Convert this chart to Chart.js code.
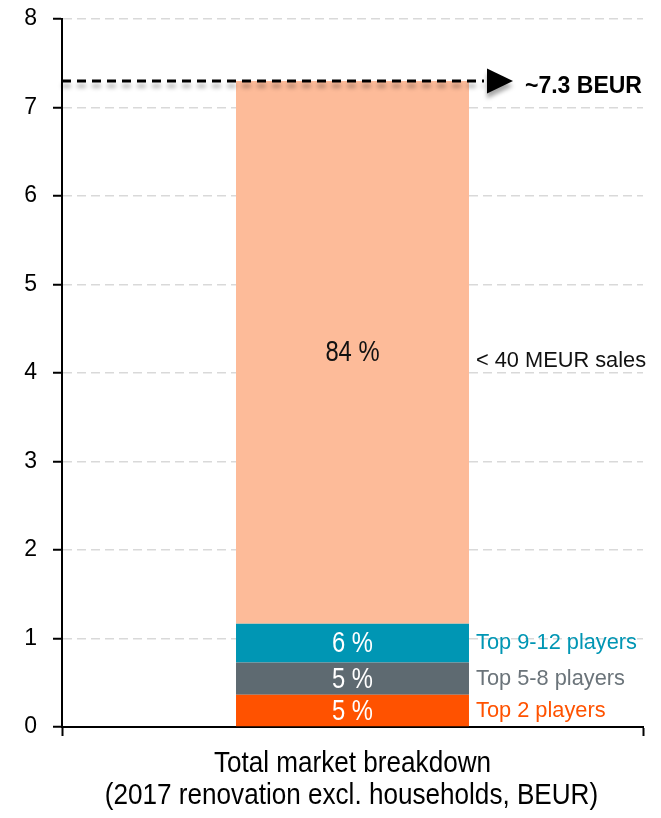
<!DOCTYPE html>
<html>
<head>
<meta charset="utf-8">
<script src="https://cdn.jsdelivr.net/npm/chart.js@4.4.0/dist/chart.umd.min.js"></script>
<style>
  html, body { margin: 0; padding: 0; background: #ffffff; }
  #wrap { width: 661px; height: 818px; }
</style>
</head>
<body>
<div id="wrap"><canvas id="chart" width="661" height="818"></canvas></div>
<script>
// Market split, stacked bottom to top (BEUR)
const categories = ['Total market'];
const segmentNames = ['Top 2 players', 'Top 5-8 players', 'Top 9-12 players', '< 40 MEUR sales'];
const segmentValues = [0.365, 0.365, 0.438, 6.132];
const segmentShares = ['5 %', '5 %', '6 %', '84 %'];
const marketTotal = 7.3;
const totalLabel = '~7.3 BEUR';
const yTickValues = [0, 1, 2, 3, 4, 5, 6, 7, 8];
const axisTitleLines = ['Total market breakdown', '(2017 renovation excl. households, BEUR)'];

const segmentColors = ['#FF5200', '#5E6A71', '#0096B4', '#FDBB99'];
const nameColors = ['#FF5200', '#6B747A', '#0096B4', '#111111'];
const shareColors = ['#ffffff', '#ffffff', '#ffffff', '#111111'];

const SANS = '"Liberation Sans", Arial, sans-serif';
const CONDENSE = 0.82; // horizontal squeeze giving a narrow face

// text drawn with an optional horizontal squeeze
function drawText(ctx, text, x, y, font, color, align, squeeze) {
  ctx.save();
  ctx.font = font;
  ctx.fillStyle = color;
  ctx.textAlign = align;
  ctx.textBaseline = 'middle';
  ctx.translate(x, y);
  ctx.scale(squeeze, 1);
  ctx.fillText(text, 0, 0);
  ctx.restore();
}

const annotations = {
  id: 'annotations',
  afterDatasetsDraw(chart) {
    const ctx = chart.ctx;
    const y = chart.scales.y;
    const area = chart.chartArea;

    // labels inside and beside each segment
    let base = 0;
    segmentValues.forEach((v, i) => {
      const bar = chart.getDatasetMeta(i).data[0];
      const mid = y.getPixelForValue(base + v / 2);
      base += v;
      drawText(ctx, segmentShares[i], bar.x, mid + 1, '29px ' + SANS, shareColors[i], 'center', CONDENSE);
      const right = bar.x + bar.width / 2;
      const shift = i === segmentValues.length - 1 ? 9 : 0;
      drawText(ctx, segmentNames[i], right + 7, mid + shift, '22px ' + SANS, nameColors[i], 'left', 0.99);
    });

    // total marker: dashed line with arrow head
    const ty = y.getPixelForValue(marketTotal);
    ctx.save();
    ctx.shadowColor = 'rgba(0,0,0,0.35)';
    ctx.shadowBlur = 4;
    ctx.shadowOffsetY = 5;
    ctx.strokeStyle = '#000000';
    ctx.lineWidth = 3;
    ctx.setLineDash([9, 6]);
    ctx.beginPath();
    ctx.moveTo(area.left, ty);
    ctx.lineTo(484, ty);
    ctx.stroke();
    ctx.setLineDash([]);
    ctx.fillStyle = '#000000';
    ctx.beginPath();
    ctx.moveTo(487, ty - 12.5);
    ctx.lineTo(513, ty);
    ctx.lineTo(487, ty + 12.5);
    ctx.closePath();
    ctx.fill();
    ctx.restore();

    drawText(ctx, totalLabel, 525, ty + 6, 'bold 23px ' + SANS, '#000000', 'left', 1.0);

    // category title under the axis
    const cx = (area.left + area.right) / 2;
    drawText(ctx, axisTitleLines[0], cx, 764, '29px ' + SANS, '#000000', 'center', 0.9);
    drawText(ctx, axisTitleLines[1], cx - 1, 796, '29px ' + SANS, '#000000', 'center', 0.9);
  }
};

new Chart(document.getElementById('chart'), {
  type: 'bar',
  data: {
    labels: categories,
    datasets: segmentValues.map((v, i) => ({
      label: segmentNames[i],
      data: [v],
      backgroundColor: segmentColors[i],
      borderWidth: 0,
      categoryPercentage: 1,
      barPercentage: 0.401
    }))
  },
  options: {
    responsive: false,
    animation: false,
    layout: { padding: { top: 19, right: 18, left: 0, bottom: 0 } },
    plugins: {
      legend: { display: false },
      tooltip: { enabled: false }
    },
    scales: {
      x: {
        stacked: true,
        ticks: { display: false },
        grid: {
          drawOnChartArea: false,
          drawTicks: true,
          tickLength: 9,
          tickWidth: 2,
          tickColor: '#000000',
          tickBorderDash: []
        },
        border: { display: true, color: '#000000', width: 2 },
        afterFit(scale) { scale.height = 91; scale.paddingLeft = 0; scale.paddingRight = 0; }
      },
      y: {
        stacked: true,
        min: 0,
        max: 8,
        afterBuildTicks(scale) { scale.ticks = yTickValues.map(v => ({ value: v })); },
        ticks: {
          color: '#000000',
          font: { family: SANS, size: 23 },
          padding: 16,
          callback: v => String(v)
        },
        grid: {
          color: c => (c.tick && c.tick.value === 0 ? 'rgba(0,0,0,0)' : '#d9d9d9'),
          lineWidth: 1.5,
          drawTicks: true,
          tickLength: 9,
          tickWidth: 2,
          tickColor: '#000000',
          tickBorderDash: []
        },
        border: { display: true, color: '#000000', width: 2, dash: [9, 5] },
        afterFit(scale) { scale.width = 62; scale.paddingTop = 0; scale.paddingBottom = 0; }
      }
    }
  },
  plugins: [annotations]
});
</script>
</body>
</html>
